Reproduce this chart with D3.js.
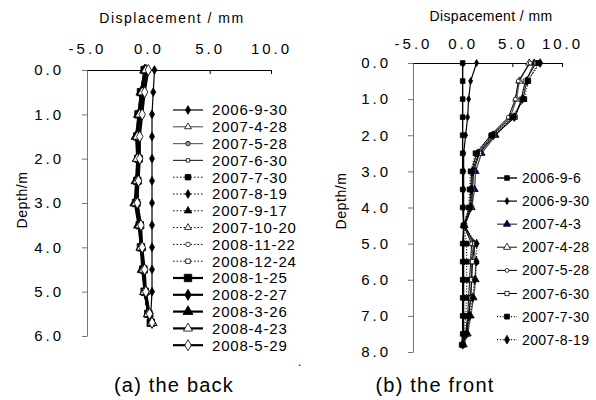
<!DOCTYPE html>
<html>
<head>
  <meta charset="utf-8">
  <script type="text/javascript" src="https://d3js.org/d3.v7.min.js"></script>
</head>
<body>
<style type="text/css">
  html,
  body {
    overflow: hidden;
    margin: 0px;
    background: #ffffff;
  }
  svg {
    font-family: "Liberation Sans", Arial, sans-serif;
  }
</style>

<script>
"use strict";

/******************************************************* Data *******************************************************/

// Shared x tick values (displacement, mm)
const X_TICKS = [-5, 0, 5, 10];

// (a) the back
const BACK_DEPTHS = [0, 0.5, 1.0, 1.5, 2.0, 2.5, 3.0, 3.5, 4.0, 4.5, 5.0, 5.5, 5.7];
const BACK_Y_TICKS = [0, 1, 2, 3, 4, 5, 6];
const BACK_DATES = [
  "2006-9-30", "2007-4-28", "2007-5-28", "2007-6-30", "2007-7-30",
  "2007-8-19", "2007-9-17", "2007-10-20", "2008-11-22", "2008-12-24",
  "2008-1-25", "2008-2-27", "2008-3-26", "2008-4-23", "2008-5-29"
];
const BACK_VALUES = [
  [0.5, 0.4, 0.3, 0.3, 0.3, 0.3, 0.3, 0.3, 0.3, 0.3, 0.3, 0.2, 0.3],
  [-0.2, -0.5, -0.7, -0.9, -0.9, -1.0, -1.1, -0.8, -0.6, -0.5, -0.3, 0.0, 0.3],
  [-0.1, -0.4, -0.6, -0.8, -0.8, -0.9, -0.9, -0.7, -0.6, -0.4, -0.3, 0.0, 0.2],
  [-0.1, -0.4, -0.6, -0.7, -0.7, -0.8, -0.9, -0.7, -0.5, -0.4, -0.2, 0.1, 0.3],
  [-0.3, -0.6, -0.8, -0.9, -0.9, -0.9, -1.0, -0.7, -0.6, -0.5, -0.3, 0.0, 0.2],
  [-0.2, -0.5, -0.7, -0.8, -0.8, -0.9, -0.9, -0.7, -0.5, -0.4, -0.3, 0.0, 0.2],
  [-0.2, -0.5, -0.7, -0.9, -0.9, -1.0, -1.1, -0.8, -0.6, -0.5, -0.3, 0.0, 0.3],
  [-0.1, -0.4, -0.6, -0.8, -0.8, -0.9, -1.0, -0.7, -0.5, -0.4, -0.2, 0.1, 0.3],
  [0.0, -0.3, -0.5, -0.7, -0.7, -0.8, -0.8, -0.6, -0.5, -0.3, -0.2, 0.1, 0.3],
  [-0.1, -0.4, -0.6, -0.8, -0.7, -0.8, -0.9, -0.6, -0.5, -0.4, -0.2, 0.1, 0.3],
  [-0.3, -0.6, -0.8, -0.9, -0.8, -0.9, -1.0, -0.7, -0.6, -0.4, -0.3, 0.0, 0.2],
  [-0.2, -0.5, -0.7, -0.9, -0.8, -0.9, -1.0, -0.7, -0.6, -0.4, -0.3, 0.0, 0.3],
  [-0.3, -0.6, -0.8, -1.0, -0.9, -1.0, -1.1, -0.8, -0.6, -0.5, -0.3, 0.0, 0.3],
  [-0.2, -0.5, -0.7, -0.9, -0.9, -0.9, -1.0, -0.7, -0.6, -0.4, -0.3, 0.0, 0.3],
  [0.0, -0.3, -0.5, -0.7, -0.7, -0.8, -0.9, -0.6, -0.5, -0.3, -0.2, 0.1, 0.3]
];

// (b) the front
const FRONT_DEPTHS = [0, 0.5, 1.0, 1.5, 2.0, 2.5, 3.0, 3.5, 4.0, 4.5, 5.0, 5.5, 6.0, 6.5, 7.0, 7.5, 7.8];
const FRONT_Y_TICKS = [0, 1, 2, 3, 4, 5, 6, 7, 8];
const FRONT_DATES = [
  "2006-9-6", "2006-9-30", "2007-4-3", "2007-4-28",
  "2007-5-28", "2007-6-30", "2007-7-30", "2007-8-19"
];
const FRONT_VALUES = [
  [0.0, 0.0, 0.0, 0.0, 0.0, 0.0, 0.0, 0.0, 0.0, 0.1, 0.0, 0.0, 0.0, 0.0, 0.0, 0.0, -0.1],
  [1.4, 0.8, 0.6, 0.5, 0.3, 0.1, 0.1, 0.1, 0.1, 0.1, 0.1, 0.1, 0.1, 0.1, 0.1, 0.1, 0.0],
  [7.2, 6.4, 6.1, 5.1, 3.3, 1.9, 1.3, 1.2, 0.9, 0.2, 1.1, 1.3, 1.3, 1.1, 0.8, 0.5, 0.1],
  [6.7, 5.7, 5.4, 4.8, 3.0, 1.6, 1.0, 0.9, 0.8, 0.1, 1.1, 0.9, 0.9, 0.8, 0.6, 0.4, 0.0],
  [6.8, 5.6, 5.3, 4.6, 2.8, 1.4, 0.9, 0.8, 0.7, 0.1, 0.9, 0.8, 0.7, 0.6, 0.5, 0.3, 0.0],
  [7.4, 6.3, 5.9, 5.3, 3.2, 1.7, 1.1, 1.0, 0.9, 0.2, 1.2, 1.0, 0.9, 0.8, 0.6, 0.4, 0.0],
  [7.6, 6.6, 6.2, 5.0, 2.9, 1.3, 0.8, 0.7, 0.6, 0.1, 0.4, 0.4, 0.4, 0.4, 0.3, 0.2, 0.0],
  [7.8, 6.5, 6.0, 5.2, 3.1, 1.5, 1.0, 0.9, 0.8, 0.1, 1.4, 1.4, 1.2, 1.0, 0.7, 0.4, 0.0]
];

/******************************************************* Styles *******************************************************/

// One style per series: dash, stroke width, line colour, symbol, symbol area, fill
const BACK_STYLES = [
  { dash: null, sw: 1.2, line: "#000", sym: d3.symbolDiamond, size: 22, fill: "#000" },
  { dash: null, sw: 1, line: "#444", sym: d3.symbolTriangle, size: 20, fill: "#fff" },
  { dash: null, sw: 1.2, line: "#666", sym: d3.symbolCircle, size: 16, fill: "#999" },
  { dash: null, sw: 1.2, line: "#333", sym: d3.symbolSquare, size: 12, fill: "#fff" },
  { dash: "1.5,2", sw: 1, line: "#000", sym: d3.symbolSquare, size: 30, fill: "#000" },
  { dash: "1.5,2", sw: 1, line: "#000", sym: d3.symbolDiamond, size: 22, fill: "#000" },
  { dash: "1.5,2", sw: 1, line: "#000", sym: d3.symbolTriangle, size: 24, fill: "#000" },
  { dash: "1.5,2", sw: 1, line: "#000", sym: d3.symbolTriangle, size: 20, fill: "#fff" },
  { dash: "1.5,2", sw: 1, line: "#000", sym: d3.symbolCircle, size: 16, fill: "#fff" },
  { dash: "1.5,2", sw: 1, line: "#000", sym: d3.symbolSquare, size: 20, fill: "#fff" },
  { dash: null, sw: 2.2, line: "#000", sym: d3.symbolSquare, size: 56, fill: "#000" },
  { dash: null, sw: 2.2, line: "#000", sym: d3.symbolDiamond, size: 36, fill: "#000" },
  { dash: null, sw: 2.2, line: "#000", sym: d3.symbolTriangle, size: 44, fill: "#000" },
  { dash: null, sw: 2.2, line: "#000", sym: d3.symbolTriangle, size: 36, fill: "#fff" },
  { dash: null, sw: 2.2, line: "#000", sym: d3.symbolDiamond, size: 36, fill: "#fff" }
];

const FRONT_STYLES = [
  { dash: null, sw: 1.4, line: "#000", sym: d3.symbolSquare, size: 22, fill: "#000" },
  { dash: null, sw: 1.2, line: "#000", sym: d3.symbolDiamond, size: 14, fill: "#000" },
  { dash: null, sw: 1.4, line: "#555", sym: d3.symbolTriangle, size: 22, fill: "#000080" },
  { dash: null, sw: 1.4, line: "#555", sym: d3.symbolTriangle, size: 22, fill: "#fff" },
  { dash: null, sw: 1, line: "#000", sym: d3.symbolCircle, size: 12, fill: "#fff" },
  { dash: null, sw: 1, line: "#000", sym: d3.symbolSquare, size: 18, fill: "#fff" },
  { dash: "1,1.8", sw: 1.2, line: "#000", sym: d3.symbolSquare, size: 24, fill: "#000" },
  { dash: "1,1.8", sw: 1.2, line: "#000", sym: d3.symbolDiamond, size: 22, fill: "#000" }
];

/******************************************************* Panels *******************************************************/

const WIDTH = 596;
const HEIGHT = 400;

// Tick labels keep a plain hyphen for the minus sign, as in the source figure
const FMT = d3.formatLocale({ decimal: ".", thousands: ",", grouping: [3], currency: ["", ""], minus: "-" }).format(".1f");

const SVG = d3
  .select("body")
  .append("svg")
  .attr("width", WIDTH)
  .attr("height", HEIGHT);

function drawPanel(p) {
  const g = SVG.append("g");

  const xScale = d3.scaleLinear().domain([-5, 10]).range(p.xRange);
  const yScale = d3.scaleLinear().domain([0, p.yMax]).range(p.yRange);

  // Top x axis, ticks pointing down into the plot
  const xAxis = g
    .append("g")
    .attr("transform", "translate(0," + p.yRange[0] + ")")
    .call(
      d3.axisTop(xScale)
        .tickValues(X_TICKS)
        .tickSizeInner(-4)
        .tickSizeOuter(0)
        .tickPadding(p.xPad)
        .tickFormat(FMT)
    );
  xAxis.select(".domain").attr("stroke", "#000");
  xAxis.selectAll(".tick line").attr("stroke", "#000");
  xAxis.selectAll(".tick text")
    .attr("font-size", p.tickFont)
    .attr("letter-spacing", p.tickLs)
    .attr("font-family", "Liberation Sans, Arial, sans-serif")
    .attr("fill", "#000");

  // Left depth axis
  const yAxis = g
    .append("g")
    .attr("transform", "translate(" + p.xRange[0] + ",0)")
    .call(
      d3.axisLeft(yScale)
        .tickValues(p.yTicks)
        .tickSizeInner(5)
        .tickSizeOuter(0)
        .tickPadding(p.yPad)
        .tickFormat(FMT)
    );
  yAxis.select(".domain").attr("stroke", "#777");
  yAxis.selectAll(".tick line").attr("stroke", "#777");
  yAxis.selectAll(".tick text")
    .attr("font-size", p.tickFont)
    .attr("letter-spacing", p.tickLs)
    .attr("font-family", "Liberation Sans, Arial, sans-serif")
    .attr("fill", "#000");

  // Axis titles
  g.append("text")
    .attr("x", p.titleX)
    .attr("y", p.titleY)
    .attr("text-anchor", "middle")
    .attr("font-size", 14)
    .attr("letter-spacing", p.titleLs)
    .text(p.title);

  g.append("text")
    .attr("transform", "translate(" + p.depthX + "," + p.depthY + ") rotate(-90)")
    .attr("text-anchor", "middle")
    .attr("font-size", 14)
    .attr("letter-spacing", 0.6)
    .text("Depth/m");

  // Series lines and markers
  const line = d3
    .line()
    .x(function(d) { return xScale(d[1]); })
    .y(function(d) { return yScale(d[0]); });

  p.values.forEach(function(vals, i) {
    const st = p.styles[i];
    const pts = p.depths.map(function(dep, j) { return [dep, vals[j]]; });

    g.append("path")
      .datum(pts)
      .attr("d", line)
      .attr("fill", "none")
      .attr("stroke", st.line)
      .attr("stroke-width", st.sw)
      .attr("stroke-dasharray", st.dash);

    g.selectAll(null)
      .data(pts)
      .enter()
      .append("path")
      .attr("d", d3.symbol().type(st.sym).size(st.size))
      .attr("transform", function(d) {
        return "translate(" + xScale(d[1]) + "," + yScale(d[0]) + ")";
      })
      .attr("fill", st.fill)
      .attr("stroke", "#000")
      .attr("stroke-width", 0.8);
  });

  // Legend
  const leg = g.append("g");
  p.dates.forEach(function(date, i) {
    const st = p.styles[i];
    const y = p.legY + i * p.legStep;
    leg.append("line")
      .attr("x1", p.legX)
      .attr("x2", p.legX + p.legLen)
      .attr("y1", y)
      .attr("y2", y)
      .attr("stroke", st.line)
      .attr("stroke-width", st.sw)
      .attr("stroke-dasharray", st.dash);
    leg.append("path")
      .attr("d", d3.symbol().type(st.sym).size(st.size))
      .attr("transform", "translate(" + (p.legX + p.legLen / 2) + "," + y + ")")
      .attr("fill", st.fill)
      .attr("stroke", "#000")
      .attr("stroke-width", 0.8);
    leg.append("text")
      .attr("x", p.legX + p.legLen + p.legGap)
      .attr("y", y)
      .attr("dy", "0.36em")
      .attr("font-size", p.legFont)
      .attr("letter-spacing", p.legLs)
      .text(date);
  });

  // Caption
  g.append("text")
    .attr("x", p.capX)
    .attr("y", 392)
    .attr("text-anchor", "middle")
    .attr("font-size", 20)
    .attr("letter-spacing", 1.2)
    .text(p.caption);
}

drawPanel({
  xRange: [87, 271],
  yRange: [70, 336],
  yMax: 6,
  yTicks: BACK_Y_TICKS,
  depths: BACK_DEPTHS,
  values: BACK_VALUES,
  dates: BACK_DATES,
  styles: BACK_STYLES,
  xPad: 16,
  yPad: 18,
  tickFont: 15,
  tickLs: 3,
  title: "Displacement / mm",
  titleX: 172,
  titleY: 23,
  titleLs: 1.5,
  depthX: 27,
  depthY: 200,
  legX: 173,
  legLen: 30,
  legGap: 9,
  legY: 110,
  legStep: 16.8,
  legFont: 15,
  legLs: 0.8,
  caption: "(a) the back",
  capX: 174
});

drawPanel({
  xRange: [413, 562],
  yRange: [63, 352],
  yMax: 8,
  yTicks: FRONT_Y_TICKS,
  depths: FRONT_DEPTHS,
  values: FRONT_VALUES,
  dates: FRONT_DATES,
  styles: FRONT_STYLES,
  xPad: 14,
  yPad: 17,
  tickFont: 15,
  tickLs: 3,
  title: "Dispacement / mm",
  titleX: 491,
  titleY: 21,
  titleLs: 0.4,
  depthX: 346,
  depthY: 201,
  legX: 497,
  legLen: 20,
  legGap: 5,
  legY: 178,
  legStep: 23.1,
  legFont: 14,
  legLs: 0.4,
  caption: "(b) the front",
  capX: 435
});

// Stray dot between the panels in the source figure
SVG.append("text")
  .attr("x", 298)
  .attr("y", 366)
  .attr("font-size", 12)
  .text(".");
</script>
</body>
</html>
